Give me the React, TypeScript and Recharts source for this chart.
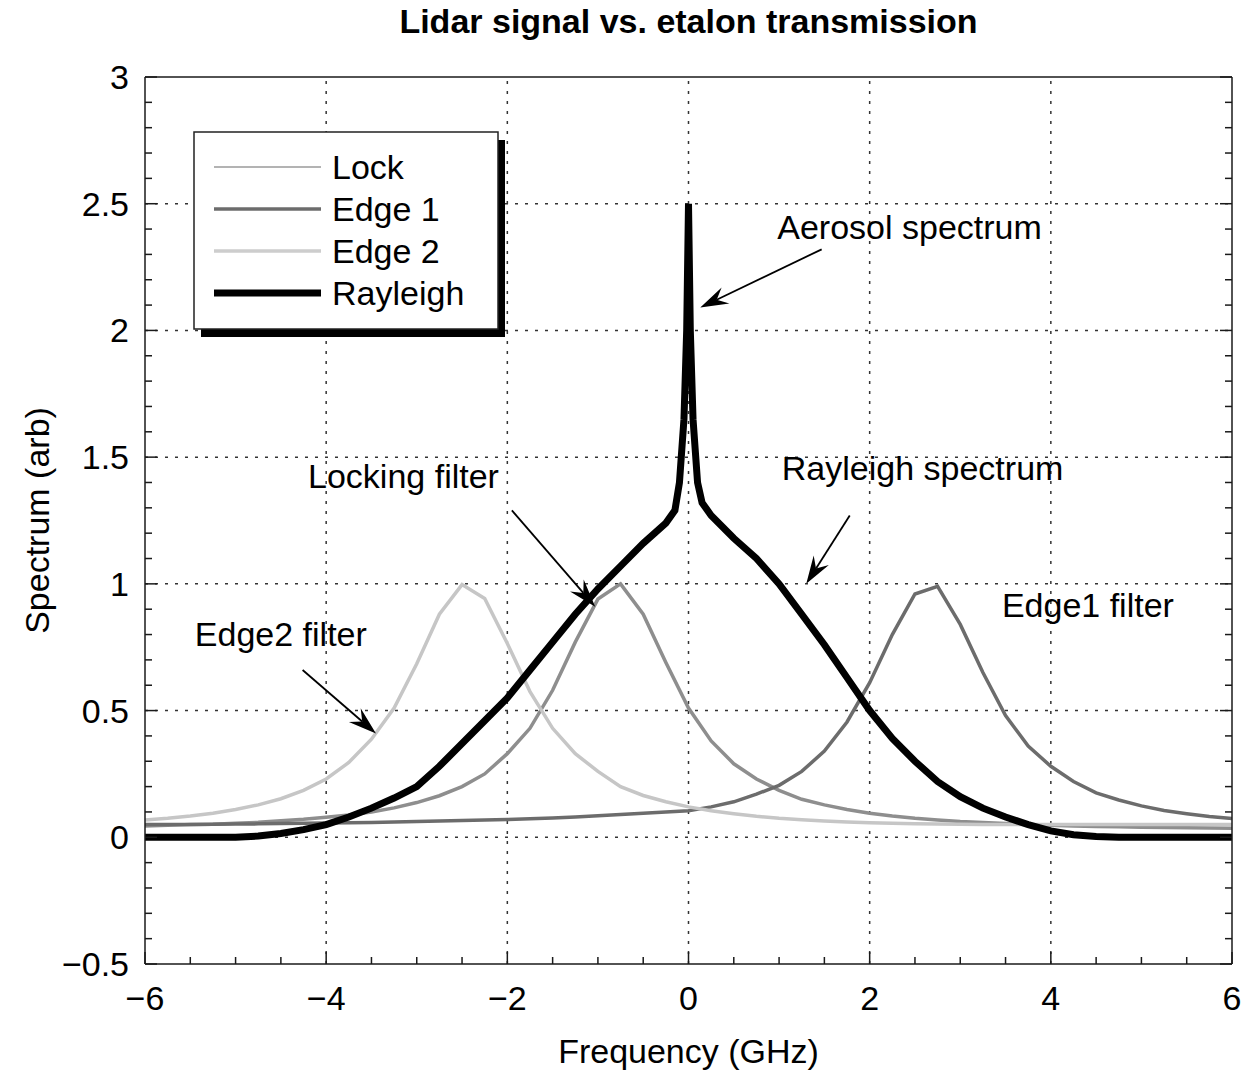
import { LineChart, Line, XAxis, YAxis, ReferenceLine, ReferenceDot, Legend } from "recharts";

const FONT = "'Liberation Sans', Arial, Helvetica, sans-serif";
const INK = "#1a1a1a";
const GRID = "#333";

// filter transmission curves, sampled every 0.25 GHz
const freq = [
  -6, -5.75, -5.5, -5.25, -5, -4.75, -4.5, -4.25, -4, -3.75, -3.5, -3.25, -3, -2.75, -2.5, -2.25, -2,
  -1.75, -1.5, -1.25, -1, -0.75, -0.5, -0.25, 0, 0.25, 0.5, 0.75, 1, 1.25, 1.5, 1.75, 2, 2.25, 2.5,
  2.75, 3, 3.25, 3.5, 3.75, 4, 4.25, 4.5, 4.75, 5, 5.25, 5.5, 5.75, 6
];
const lockT = [
  0.045, 0.047, 0.05, 0.051, 0.055, 0.059, 0.065, 0.071, 0.079, 0.088, 0.1, 0.116, 0.137, 0.164, 0.2,
  0.25, 0.33, 0.43, 0.58, 0.77, 0.94, 1.0, 0.88, 0.69, 0.51, 0.38, 0.29, 0.23, 0.185, 0.15, 0.128, 0.11,
  0.095, 0.084, 0.075, 0.068, 0.062, 0.058, 0.054, 0.05, 0.047, 0.045, 0.043, 0.042, 0.04, 0.039, 0.038,
  0.037, 0.036
];
const edge1T = [
  0.05, 0.05, 0.05, 0.051, 0.052, 0.053, 0.054, 0.055, 0.056, 0.057, 0.058, 0.06, 0.062, 0.064, 0.066,
  0.068, 0.07, 0.073, 0.076, 0.08, 0.085, 0.09, 0.095, 0.1, 0.105, 0.12, 0.14, 0.17, 0.205, 0.26, 0.34,
  0.455, 0.61, 0.8, 0.96, 0.99, 0.84, 0.65, 0.48, 0.36, 0.28, 0.22, 0.175, 0.147, 0.124, 0.106, 0.093,
  0.082, 0.074
];
const edge2T = [
  0.068, 0.075, 0.084, 0.095, 0.11, 0.128, 0.152, 0.185, 0.23, 0.295, 0.387, 0.51, 0.685, 0.88, 0.997,
  0.942, 0.765, 0.575, 0.43, 0.33, 0.26, 0.2, 0.165, 0.14, 0.12, 0.105, 0.093, 0.083, 0.075, 0.069, 0.064,
  0.06, 0.057, 0.055, 0.053, 0.052, 0.051, 0.05, 0.05, 0.05, 0.05, 0.05, 0.05, 0.05, 0.05, 0.05, 0.05,
  0.05, 0.05
];

// rayleigh + aerosol backscatter spectrum
const rayleighFreq = [
  -6, -5, -4.75, -4.5, -4.25, -4, -3.75, -3.5, -3.25, -3, -2.75, -2.5, -2.25, -2, -1.75, -1.5, -1.25, -1,
  -0.75, -0.5, -0.25, -0.15, -0.1, -0.05, -0.02, 0, 0.02, 0.05, 0.1, 0.15, 0.25, 0.5, 0.75, 1, 1.25, 1.5,
  1.75, 2, 2.25, 2.5, 2.75, 3, 3.25, 3.5, 3.75, 4, 4.25, 4.5, 4.75, 6
];
const rayleighSig = [
  0, 0, 0.005, 0.015, 0.03, 0.05, 0.08, 0.115, 0.155, 0.2, 0.28, 0.37, 0.46, 0.55, 0.66, 0.77, 0.88, 0.98,
  1.07, 1.16, 1.24, 1.29, 1.4, 1.65, 2.0, 2.5, 2.0, 1.65, 1.4, 1.32, 1.27, 1.18, 1.1, 1.0, 0.88, 0.76,
  0.63, 0.5, 0.39, 0.3, 0.22, 0.16, 0.115, 0.08, 0.05, 0.025, 0.01, 0.003, 0, 0
];

const xTicks = [
  -6, -5.5, -5, -4.5, -4, -3.5, -3, -2.5, -2, -1.5, -1, -0.5, 0, 0.5, 1, 1.5, 2, 2.5, 3, 3.5, 4, 4.5, 5, 5.5, 6
];
const yTicks = [
  -0.5, -0.4, -0.3, -0.2, -0.1, 0, 0.1, 0.2, 0.3, 0.4, 0.5, 0.6, 0.7, 0.8, 0.9, 1, 1.1, 1.2, 1.3, 1.4, 1.5,
  1.6, 1.7, 1.8, 1.9, 2, 2.1, 2.2, 2.3, 2.4, 2.5, 2.6, 2.7, 2.8, 2.9, 3
];
const xGrid = [-4, -2, 0, 2, 4];
const yGrid = [0, 0.5, 1, 1.5, 2, 2.5];

const notes = [
  { text: "Aerosol spectrum", x: 0.98, y: 2.36 },
  { text: "Locking filter", x: -4.2, y: 1.38 },
  { text: "Rayleigh spectrum", x: 1.03, y: 1.41 },
  { text: "Edge1 filter", x: 3.46, y: 0.87 },
  { text: "Edge2 filter", x: -5.45, y: 0.755 }
];
const arrows = [
  { from: [1.47, 2.32], to: [0.13, 2.09] },
  { from: [-1.95, 1.29], to: [-1.03, 0.91] },
  { from: [1.78, 1.27], to: [1.3, 1.0] },
  { from: [-4.26, 0.66], to: [-3.45, 0.41] }
];

const filterRows = freq.map((f, i) => ({ f, lock: lockT[i], edge1: edge1T[i], edge2: edge2T[i] }));
const rayleighRows = rayleighFreq.map((f, i) => ({ f, rayleigh: rayleighSig[i] }));

const series = [
  { key: "lock", name: "Lock", color: "#8e8e8e", width: 3.5, legendColor: "#9a9a9a", legendWidth: 1.5 },
  { key: "edge1", name: "Edge 1", color: "#6c6c6c", width: 3.5, legendColor: "#6c6c6c", legendWidth: 3.5 },
  { key: "edge2", name: "Edge 2", color: "#c6c6c6", width: 3.5, legendColor: "#cdcdcd", legendWidth: 3.5 },
  { key: "rayleigh", name: "Rayleigh", color: "#000", width: 7, legendColor: "#000", legendWidth: 7 }
];

const isMajorX = (v: number) => Math.abs(v / 2 - Math.round(v / 2)) < 1e-6;
const isMajorY = (v: number) => Math.abs(v * 2 - Math.round(v * 2)) < 1e-6;
const fmt = (v: number) => (v < 0 ? "\u2212" + String(Math.abs(v)) : String(v));

const textStyle = { fontFamily: FONT, fontSize: 34, fill: "#000" };

function BottomTick({ x, y, payload }: any) {
  const major = isMajorX(payload.value);
  return (
    <g>
      <line x1={x} x2={x} y1={y} y2={y - (major ? 12 : 7)} stroke={INK} strokeWidth={1.5} />
      {major && (
        <text x={x} y={y + 46} textAnchor="middle" style={textStyle}>
          {fmt(payload.value)}
        </text>
      )}
    </g>
  );
}

function TopTick({ x, y, payload }: any) {
  const major = isMajorX(payload.value);
  return <line x1={x} x2={x} y1={y} y2={y + (major ? 12 : 7)} stroke={INK} strokeWidth={1.5} />;
}

function LeftTick({ x, y, payload }: any) {
  const major = isMajorY(payload.value);
  return (
    <g>
      <line x1={x} x2={x + (major ? 12 : 7)} y1={y} y2={y} stroke={INK} strokeWidth={1.5} />
      {major && (
        <text x={x - 16} y={y} textAnchor="end" dominantBaseline="central" style={textStyle}>
          {fmt(payload.value)}
        </text>
      )}
    </g>
  );
}

function RightTick({ x, y, payload }: any) {
  const major = isMajorY(payload.value);
  return <line x1={x} x2={x - (major ? 12 : 7)} y1={y} y2={y} stroke={INK} strokeWidth={1.5} />;
}

function ArrowShape({ x1, y1, x2, y2 }: any) {
  const a = Math.atan2(y2 - y1, x2 - x1);
  const len = 28;
  const half = 9;
  const c = Math.cos(a);
  const s = Math.sin(a);
  const bx = x2 - len * c;
  const by = y2 - len * s;
  const ix = x2 - len * 0.65 * c;
  const iy = y2 - len * 0.65 * s;
  const pts = `${x2},${y2} ${bx - half * s},${by + half * c} ${ix},${iy} ${bx + half * s},${by - half * c}`;
  return (
    <g>
      <line x1={x1} y1={y1} x2={ix} y2={iy} stroke="#000" strokeWidth={1.8} />
      <polygon points={pts} fill="#000" />
    </g>
  );
}

function LegendBox() {
  return (
    <svg width={320} height={212} style={{ display: "block" }}>
      <rect x={8} y={9} width={304} height={197} fill="#000" />
      <rect x={1} y={1} width={304} height={197} fill="#fff" stroke="#222" strokeWidth={1.5} />
      {series.map((s, i) => (
        <g key={s.key}>
          <line x1={21} x2={128} y1={36 + i * 42} y2={36 + i * 42} stroke={s.legendColor} strokeWidth={s.legendWidth} />
          <text x={139} y={36 + i * 42} dominantBaseline="central" style={textStyle}>
            {s.name}
          </text>
        </g>
      ))}
    </svg>
  );
}

export default function App() {
  return (
    <div style={{ marginTop: -8 }}>
      <LineChart width={1238} height={1074} margin={{ top: 76, right: 13, bottom: 0, left: 17 }}>
        <XAxis
          dataKey="f"
          type="number"
          domain={[-6, 6]}
          allowDataOverflow
          ticks={xTicks}
          interval={0}
          tickSize={0}
          tickMargin={0}
          tickLine={false}
          tick={<BottomTick />}
          height={110}
          axisLine={{ stroke: INK, strokeWidth: 1.5 }}
          label={({ viewBox }: any) => (
            <text x={viewBox.x + viewBox.width / 2} y={viewBox.y + 99} textAnchor="middle" style={textStyle}>
              Frequency (GHz)
            </text>
          )}
        />
        <XAxis
          xAxisId="top"
          orientation="top"
          type="number"
          domain={[-6, 6]}
          allowDataOverflow
          ticks={xTicks}
          interval={0}
          tickSize={0}
          tickMargin={0}
          tickLine={false}
          tick={<TopTick />}
          height={1}
          axisLine={{ stroke: INK, strokeWidth: 1.5 }}
          label={({ viewBox }: any) => (
            <text
              x={viewBox.x + viewBox.width / 2}
              y={viewBox.y - 43}
              textAnchor="middle"
              style={{ ...textStyle, fontWeight: "bold" }}
            >
              Lidar signal vs. etalon transmission
            </text>
          )}
        />
        <YAxis
          type="number"
          domain={[-0.5, 3]}
          allowDataOverflow
          ticks={yTicks}
          interval={0}
          tickSize={0}
          tickMargin={0}
          tickLine={false}
          tick={<LeftTick />}
          width={120}
          axisLine={{ stroke: INK, strokeWidth: 1.5 }}
          label={({ viewBox }: any) => {
            const cx = viewBox.x + 12;
            const cy = viewBox.y + viewBox.height / 2;
            return (
              <text
                x={cx}
                y={cy}
                transform={`rotate(-90 ${cx} ${cy})`}
                textAnchor="middle"
                dominantBaseline="central"
                style={textStyle}
              >
                Spectrum (arb)
              </text>
            );
          }}
        />
        <YAxis
          yAxisId="right"
          orientation="right"
          type="number"
          domain={[-0.5, 3]}
          allowDataOverflow
          ticks={yTicks}
          interval={0}
          tickSize={0}
          tickMargin={0}
          tickLine={false}
          tick={<RightTick />}
          width={1}
          axisLine={{ stroke: INK, strokeWidth: 1.5 }}
        />

        {xGrid.map((v) => (
          <ReferenceLine key={"gx" + v} x={v} stroke={GRID} strokeWidth={1.5} strokeDasharray="3 7" />
        ))}
        {yGrid.map((v) => (
          <ReferenceLine key={"gy" + v} y={v} stroke={GRID} strokeWidth={1.5} strokeDasharray="3 7" />
        ))}

        {series.slice(0, 3).map((s) => (
          <Line
            key={s.key}
            data={filterRows}
            dataKey={s.key}
            name={s.name}
            type="linear"
            stroke={s.color}
            strokeWidth={s.width}
            dot={false}
            activeDot={false}
            isAnimationActive={false}
          />
        ))}
        <Line
          data={rayleighRows}
          dataKey="rayleigh"
          name="Rayleigh"
          type="linear"
          stroke="#000"
          strokeWidth={7}
          strokeLinejoin="miter"
          strokeMiterlimit={20}
          dot={false}
          activeDot={false}
          isAnimationActive={false}
        />

        {arrows.map((a, i) => (
          <ReferenceLine
            key={"ar" + i}
            segment={[
              { x: a.from[0], y: a.from[1] },
              { x: a.to[0], y: a.to[1] }
            ]}
            shape={(p: any) => <ArrowShape {...p} />}
          />
        ))}
        {notes.map((n) => (
          <ReferenceDot
            key={n.text}
            x={n.x}
            y={n.y}
            r={0}
            shape={(p: any) => (
              <text x={p.cx} y={p.cy} style={textStyle}>
                {n.text}
              </text>
            )}
          />
        ))}

        <Legend
          layout="vertical"
          align="center"
          verticalAlign="middle"
          wrapperStyle={{ left: 185, top: 131, width: 320, height: 212 }}
          content={() => <LegendBox />}
        />
      </LineChart>
    </div>
  );
}
